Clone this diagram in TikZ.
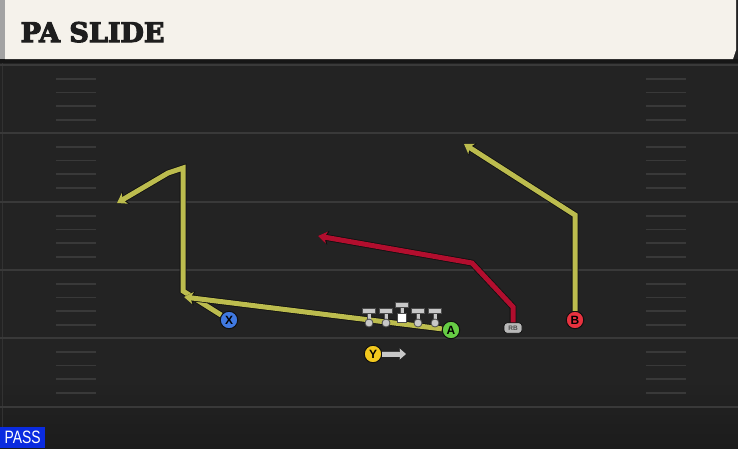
\documentclass[tikz,border=0pt]{standalone}
\usepackage{fontspec}
\newfontfamily\headfont{DejaVu Serif}
\newfontfamily\labfont{Liberation Sans}
\usetikzlibrary{arrows.meta}
\definecolor{fieldbg}{HTML}{232323}
\definecolor{fielddark}{HTML}{1C1C1C}
\definecolor{yardcol}{HTML}{393939}
\definecolor{headbg}{HTML}{F5F2EB}
\definecolor{headstrip}{HTML}{A3A3A3}
\definecolor{bandcol}{HTML}{161616}
\definecolor{titlecol}{HTML}{1E1E1E}
\definecolor{yroutecol}{RGB}{188,188,78}
\definecolor{rroutecol}{RGB}{178,14,46}
\definecolor{xblue}{HTML}{4079E0}
\definecolor{agreen}{HTML}{66CC44}
\definecolor{bred}{HTML}{E8323F}
\definecolor{yyellow}{HTML}{F2C81E}
\definecolor{rbgray}{HTML}{B8B8B8}
\definecolor{olgray}{HTML}{C8C8C8}
\definecolor{passblue}{HTML}{0A2BE0}
\definecolor{outl}{HTML}{101010}
\newcommand{\heavytext}[1]{\special{pdf:literal direct 2 Tr 1.1 w}#1\special{pdf:literal direct 0 Tr}}
\begin{document}
\begin{tikzpicture}[x=1pt,y=-1pt,
  yard/.style={draw=yardcol, line width=2pt},
  hash/.style={draw=yardcol, line width=1.6pt},
  player/.style={circle, draw=outl, line width=1pt, minimum size=17.5pt, inner sep=0pt,
    font=\labfont\bfseries\fontsize{12}{12}\selectfont, text=black},
  yroute/.style={draw=yroutecol, line width=5pt, line join=miter,
    -{Stealth[length=9pt,width=12pt,inset=2.5pt]},
    preaction={draw=outl, line width=6.6pt, -{Stealth[length=10.5pt,width=14pt,inset=2.5pt]}}},
  rroute/.style={draw=rroutecol, line width=5pt, line join=miter,
    -{Stealth[length=9pt,width=12pt,inset=2.5pt]},
    preaction={draw=outl, line width=6.6pt, -{Stealth[length=10.5pt,width=14pt,inset=2.5pt]}}},
  motion/.style={draw=olgray, line width=5pt, -{Triangle[length=6pt,width=10pt]},
    preaction={draw=black!75, line width=6.5pt, -{Triangle[length=7pt,width=12pt]}}},
  lineman/.style={circle, fill=olgray, draw=black!70, line width=0.8pt, minimum size=8pt, inner sep=0pt},
  centersq/.style={rectangle, fill=white, draw=black!70, line width=0.8pt, minimum size=9pt, inner sep=0pt},
  blockstem/.style={draw=olgray, line width=3pt, preaction={draw=black!70, line width=4.2pt}},
  blockbar/.style={draw=olgray, line width=4pt, preaction={draw=black!70, line width=5.2pt, shorten <=-0.6pt, shorten >=-0.6pt}}
]
\useasboundingbox (0,0) rectangle (738,448);
% field
\fill[fieldbg] (0,0) rectangle (738,448);
\shade[top color=fieldbg, bottom color=fielddark] (0,380) rectangle (738,448);
\draw[draw=yardcol!70!fieldbg, line width=1pt] (2,63) -- (2,448);
\foreach \y in {65,133,202,270,338,407} \draw[yard] (0,\y) -- (738,\y);
\foreach \b in {65,133,202,270,338} {
  \foreach \k in {1,2,3,4} {
    \draw[hash] (56,\b+\k*13.7) -- (96,\b+\k*13.7);
    \draw[hash] (646,\b+\k*13.7) -- (686,\b+\k*13.7);
  }
}
% header
\fill[bandcol] (0,59) rectangle (738,63);
\fill[headbg] (5,0) -- (736,0) -- (736,50) -- (733,59) -- (5,59) -- cycle;
\fill[headstrip] (0,0) rectangle (5,59);
\node[anchor=base west, inner sep=0pt, text=titlecol,
  font=\headfont\bfseries\fontsize{27}{30}\selectfont] (title) at (20.5,42) {\heavytext{PA SLIDE}};
% players
\node[player, fill=xblue] (X) at (229,320) {X};
\node[player, fill=agreen] (A) at (451,330) {A};
\node[player, fill=bred] (B) at (575,320) {B};
\node[player, fill=yyellow] (Y) at (373,354) {Y};
\node[rectangle, rounded corners=3pt, fill=rbgray, draw=outl, line width=0.8pt,
  minimum width=18pt, minimum height=10.5pt, inner sep=0pt, text=black!70,
  font=\labfont\bfseries\fontsize{6.5}{6.5}\selectfont] (RB) at (513,328) {RB};
% routes
\coordinate (x1) at (183,291);
\coordinate (x2) at (183,168);
\coordinate (x3) at (168,173);
\coordinate (x4) at (117,203);
\draw[yroute] (X) -- (x1) -- (x2) -- (x3) -- (x4);
\coordinate (a1) at (184,297);
\draw[yroute] (A) -- (a1);
\coordinate (b1) at (575,215);
\coordinate (b2) at (464,144);
\draw[yroute] (B) -- (b1) -- (b2);
\coordinate (r1) at (513,307);
\coordinate (r2) at (472,263);
\coordinate (r3) at (318,236);
\draw[rroute] (RB) -- (r1) -- (r2) -- (r3);
\coordinate (ym) at (406,354);
\draw[motion] (Y) -- (ym);
% offensive line
\foreach \i/\x in {1/369,2/386,4/418,5/435} {
  \draw[blockstem] (\x,323) -- (\x,311) coordinate (t\i);
  \draw[blockbar] ([xshift=-6pt]t\i) -- ([xshift=6pt]t\i);
  \node[lineman] (ol\i) at (\x,323) {};
}
\draw[blockstem] (402,318) -- (402,305) coordinate (tc);
\draw[blockbar] ([xshift=-6pt]tc) -- ([xshift=6pt]tc);
\node[centersq] (C) at (402,318) {};
% badge
\node[fill=passblue, anchor=south west, minimum width=45pt, minimum height=21pt, inner sep=0pt,
  text=white] (pass) at (0,448) {\resizebox{36pt}{12.5pt}{\labfont PASS}};
\end{tikzpicture}
\end{document}
